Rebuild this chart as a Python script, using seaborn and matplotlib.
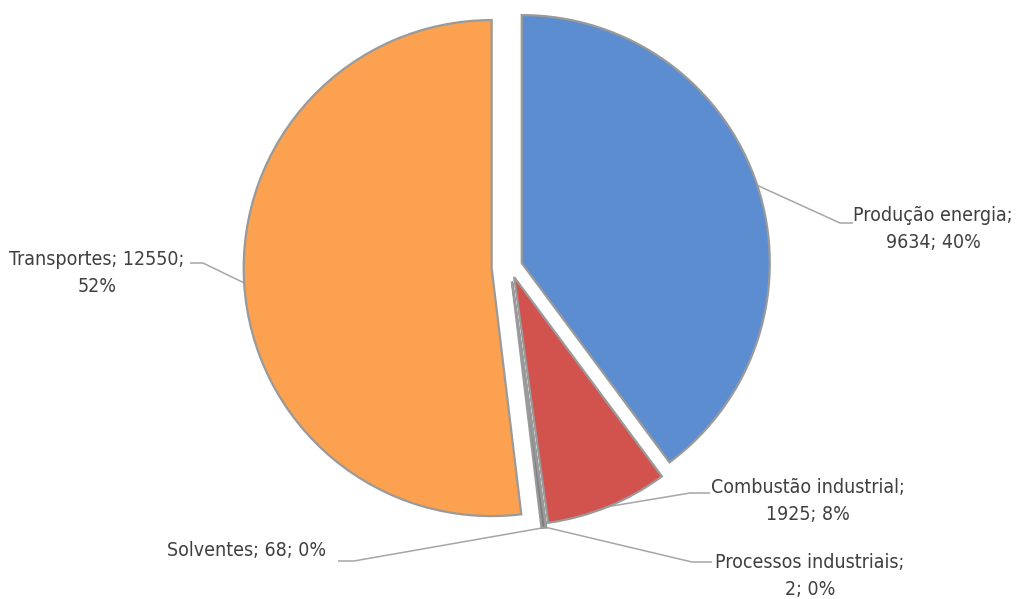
import numpy as np
import matplotlib
matplotlib.use("Agg")
import matplotlib.pyplot as plt
from matplotlib import font_manager
import seaborn as sns

# ---- data ----
categories = ["Produção energia", "Combustão industrial", "Processos industriais", "Solventes", "Transportes"]
values = [9634, 1925, 2, 68, 12550]
# where the label text wraps: 'name' -> after the name, 'value' -> after the value, None -> single line
wrap_after = ["name", "name", "name", None, "value"]

# ---- styling / layout ----
sns.set_theme(style="white")
plt.rcParams["font.family"] = ["DejaVu Sans"]

# pick a narrow font if one is installed
font_fp = None
font_size = 13
prefs = [("Liberation Sans Narrow", 15.5), ("DejaVu Sans Condensed", 14)]
ttf = font_manager.fontManager.ttflist
for name, size in prefs:
    for f in ttf:
        fn = f.fname.replace(" ", "")
        if name == "Liberation Sans Narrow":
            ok = f.name == "Liberation Sans Narrow" and f.style == "normal" and f.weight in (400, "normal", "regular")
        else:
            ok = fn.endswith("DejaVuSansCondensed.ttf")
        if ok:
            font_fp = font_manager.FontProperties(fname=f.fname)
            font_size = size
            break
    if font_fp is not None:
        break
if font_fp is None:
    font_fp = font_manager.FontProperties(family=["Roboto", "DejaVu Sans"])
    font_size = 14.5
font_fp.set_size(font_size)

colors = ["#5B8DD0", "#D2524E", "#8C8C8C", "#7F7F7F", "#FBA14F"]
explode_frac = [0.05, 0.044, 0.06, 0.06, 0.074]

W, H = 1018, 599
fig = plt.figure(figsize=(W / 100, H / 100), dpi=100)
ax = fig.add_axes([0, 0, 1, 1])

def Y(ypx):
    return H - ypx

center = (510, Y(267))
R = 248

wedges, _ = ax.pie(values, colors=colors, explode=[e * R for e in explode_frac],
                   startangle=90, counterclock=False, radius=R, center=center,
                   wedgeprops=dict(edgecolor="#9A9A9A", linewidth=1.6))
ax.set_xlim(0, W)
ax.set_ylim(0, H)
ax.set_aspect("equal")
ax.axis("off")

total = sum(values)
# label layout (pixel coords): text centre, elbow point, end of horizontal segment
label_layout = [
    dict(text=(933, 229), elbow=(840, 223), end=(853, 223)),
    dict(text=(808, 501), elbow=(690, 493), end=(710, 493)),
    dict(text=(810, 576), elbow=(692, 562), end=(712, 562)),
    dict(text=(247, 551), elbow=(354, 561), end=(338, 561)),
    dict(text=(97, 273), elbow=(203, 263), end=(190, 263)),
]

for w, cat, val, wrap, lay in zip(wedges, categories, values, wrap_after, label_layout):
    pct = int(round(100 * val / total))
    if wrap == "name":
        txt = f"{cat};\n{val}; {pct}%"
    elif wrap == "value":
        txt = f"{cat}; {val};\n{pct}%"
    else:
        txt = f"{cat}; {val}; {pct}%"
    mid = np.deg2rad((w.theta1 + w.theta2) / 2)
    ax_x = w.center[0] + w.r * np.cos(mid)
    ax_y = w.center[1] + w.r * np.sin(mid)
    ex, ey = lay["elbow"]
    nx, ny = lay["end"]
    ax.plot([ax_x, ex, nx], [ax_y, Y(ey), Y(ny)], color="#A6A6A6", lw=1.1,
            solid_capstyle="butt", zorder=0.5)
    tx, ty = lay["text"]
    ax.text(tx, Y(ty), txt, ha="center", va="center", fontproperties=font_fp,
            color="#404040", linespacing=1.55)

fig.savefig("out.png", dpi=100, facecolor="white")
